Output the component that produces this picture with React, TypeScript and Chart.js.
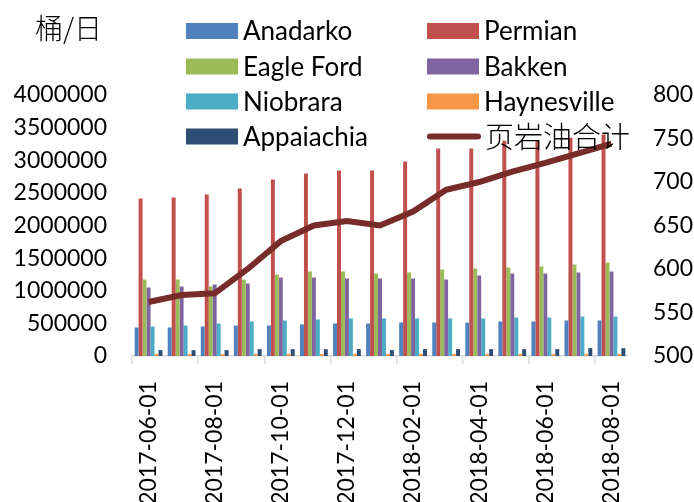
import React, { useEffect, useRef } from 'react';
import { Chart, registerables } from 'chart.js';

Chart.register(...registerables);

const categories = [
  '2017-06-01', '2017-07-01', '2017-08-01', '2017-09-01', '2017-10-01',
  '2017-11-01', '2017-12-01', '2018-01-01', '2018-02-01', '2018-03-01',
  '2018-04-01', '2018-05-01', '2018-06-01', '2018-07-01', '2018-08-01',
];

const anadarko = [437000, 437000, 452000, 467000, 467000, 483000, 498000, 498000, 513000, 513000, 513000, 529000, 529000, 544000, 544000];
const permian = [2414000, 2430000, 2475000, 2567000, 2705000, 2797000, 2843000, 2843000, 2981000, 3180000, 3180000, 3300000, 3300000, 3344000, 3395000];
const eagleFord = [1172000, 1172000, 1065000, 1172000, 1249000, 1295000, 1295000, 1264000, 1280000, 1326000, 1341000, 1356000, 1372000, 1402000, 1433000];
const bakken = [1050000, 1065000, 1096000, 1111000, 1203000, 1203000, 1188000, 1188000, 1188000, 1172000, 1234000, 1264000, 1264000, 1280000, 1295000];
const niobrara = [452000, 467000, 498000, 529000, 544000, 559000, 575000, 575000, 575000, 575000, 575000, 590000, 590000, 605000, 605000];
const haynesville = [30000, 30000, 30000, 30000, 30000, 30000, 30000, 30000, 30000, 30000, 30000, 30000, 30000, 30000, 30000];
const appalachia = [90000, 90000, 90000, 105000, 105000, 105000, 105000, 90000, 105000, 105000, 105000, 105000, 105000, 120000, 120000];
const shaleTotal = [562, 570, 572, 600, 632, 650, 655, 650, 666, 691, 700, 712, 722, 733, 744];

const seriesNames = ['Anadarko', 'Permian', 'Eagle Ford', 'Bakken', 'Niobrara', 'Haynesville', 'Appaiachia', '页岩油合计'];
const seriesColors = ['#4F81BD', '#C0504D', '#9BBB59', '#8064A2', '#4BACC6', '#F79646', '#2C4D75', '#772C2A'];
const unitLabel = '桶/日';

const latin = 'Lato, "Noto Sans", sans-serif';
const cjk = '"Noto Sans CJK SC", sans-serif';

const legendPlugin = {
  id: 'customLegend',
  afterDraw(chart: any) {
    const ctx = chart.ctx;
    ctx.save();
    ctx.fillStyle = '#000';
    ctx.textBaseline = 'middle';
    ctx.textAlign = 'left';
    ctx.font = `300 28px ${cjk}`;
    ctx.fillText(unitLabel, 35, 28);

    const ds = chart.data.datasets;
    const colX = [186, 427];
    const rowY = [31, 66.5, 101.5, 136.5];
    ds.forEach((d: any, i: number) => {
      const col = i % 2;
      const row = Math.floor(i / 2);
      const x = colX[col];
      const y = rowY[row];
      if (d.type === 'line') {
        ctx.strokeStyle = d.borderColor;
        ctx.lineWidth = 6;
        ctx.lineCap = 'round';
        ctx.beginPath();
        ctx.moveTo(x + 3, y);
        ctx.lineTo(x + 51, y);
        ctx.stroke();
        ctx.fillStyle = '#000';
        ctx.font = `300 29px ${cjk}`;
        ctx.fillText(d.label, x + 58, y);
      } else {
        ctx.fillStyle = d.backgroundColor;
        ctx.fillRect(x, y - 8, 52, 16);
        ctx.fillStyle = '#000';
        ctx.font = `26px ${latin}`;
        ctx.fillText(d.label, x + 57, y + 1);
      }
    });
    ctx.restore();
  },
};

export default function App() {
  const ref = useRef<HTMLCanvasElement | null>(null);

  useEffect(() => {
    if (!ref.current) return;
    const barData = [anadarko, permian, eagleFord, bakken, niobrara, haynesville, appalachia];
    const datasets: any[] = barData.map((arr, i) => ({
      type: 'bar',
      label: seriesNames[i],
      data: arr,
      backgroundColor: seriesColors[i],
      borderWidth: 0,
      yAxisID: 'y',
      order: 1,
      categoryPercentage: 0.84,
      barPercentage: 1.0,
    }));
    datasets.push({
      type: 'line',
      label: seriesNames[7],
      data: shaleTotal,
      borderColor: seriesColors[7],
      backgroundColor: seriesColors[7],
      borderWidth: 6,
      pointRadius: 0,
      tension: 0,
      yAxisID: 'y1',
      order: 0,
    });

    const chart = new Chart(ref.current, {
      type: 'bar',
      data: { labels: categories, datasets },
      options: {
        animation: false,
        responsive: false,
        maintainAspectRatio: false,
        layout: { padding: { top: 95, left: 0, right: 0, bottom: 0 } },
        plugins: { legend: { display: false }, tooltip: { enabled: false } },
        scales: {
          x: {
            offset: true,
            afterFit: (s: any) => { s.height = 146; },
            border: { display: true, color: '#d9d9d9', width: 1.5 },
            grid: {
              offset: true,
              drawOnChartArea: false,
              drawTicks: true,
              tickLength: 8,
              lineWidth: 1.5,
              color: (c: any) => (c.index % 2 === 0 ? '#d9d9d9' : 'rgba(0,0,0,0)'),
            },
            ticks: {
              autoSkip: false,
              minRotation: 90,
              maxRotation: 90,
              padding: 17,
              color: '#000',
              font: { family: latin, size: 23 },
              callback: (_v: any, i: number) => (i % 2 === 0 ? categories[i] : ''),
            },
          },
          y: {
            position: 'left',
            min: 0,
            max: 4000000,
            afterFit: (s: any) => { s.width = 132; },
            border: { display: false },
            grid: { display: false, drawTicks: false },
            ticks: {
              stepSize: 500000,
              padding: 25,
              color: '#000',
              font: { family: latin, size: 23 },
              callback: (v: any) => String(v),
            },
          },
          y1: {
            position: 'right',
            min: 500,
            max: 800,
            afterFit: (s: any) => { s.width = 66; },
            border: { display: false },
            grid: { display: false, drawTicks: false },
            ticks: {
              stepSize: 50,
              padding: 25,
              color: '#000',
              font: { family: latin, size: 23 },
              callback: (v: any) => String(v),
            },
          },
        },
      } as any,
      plugins: [legendPlugin],
    });
    return () => chart.destroy();
  }, []);

  return (
    <div style={{ position: 'fixed', left: 0, top: 0, width: 694, height: 502, overflow: 'hidden', background: '#fff' }}>
      <canvas ref={ref} width={694} height={502} style={{ width: 694, height: 502, display: 'block' }} />
    </div>
  );
}
